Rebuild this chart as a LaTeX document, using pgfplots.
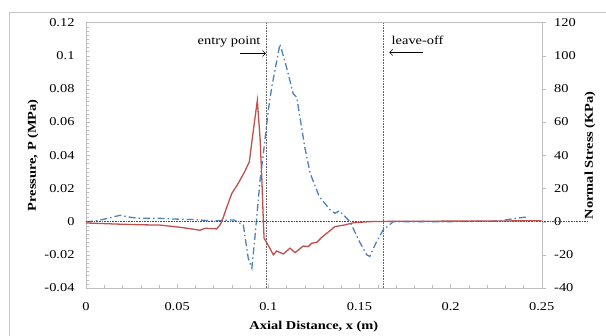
\documentclass[border=0pt]{standalone}
\usepackage{pgfplots}
\pgfplotsset{compat=1.18}
\usepackage{fontspec}
\setmainfont{Liberation Serif}[FakeStretch=1.2]
\usetikzlibrary{arrows.meta}
\definecolor{myred}{HTML}{C0504D}
\definecolor{myblue}{HTML}{4F81BD}
\definecolor{axgray}{RGB}{190,190,190}

\pgfplotstableread{
x p
0 -0.0008
0.01 -0.0012
0.02 -0.0016
0.03 -0.0019
0.0406 -0.0021
0.0516 -0.0034
0.058 -0.0044
0.0625 -0.0052
0.0653 -0.0040
0.0717 -0.0044
0.0735 -0.0020
0.0745 0.0
0.077 0.008
0.080 0.017
0.0835 0.023
0.087 0.030
0.0896 0.036
0.0918 0.055
0.094 0.073
0.0955 0.050
0.0965 0.025
0.0973 0.0
0.0977 -0.010
0.0988 -0.012
0.1028 -0.020
0.1046 -0.0177
0.1083 -0.0195
0.1119 -0.016
0.1147 -0.0187
0.1192 -0.0147
0.122 -0.015
0.1238 -0.013
0.1266 -0.0125
0.1293 -0.0095
0.1366 -0.003
0.142 -0.002
0.1467 -0.0007
0.1558 0.0
0.17 0.0002
0.2 0.0003
0.25 0.0005
}\pressure

\pgfplotstableread{
x s
0 0
0.005 0.3
0.010 1.5
0.0187 3.8
0.025 2.5
0.030 2
0.040 2
0.050 1.5
0.060 1.2
0.070 0.3
0.075 0.8
0.081 1
0.0863 -2
0.089 -22
0.091 -28
0.0927 -9
0.0955 25
0.0973 41
0.100 67
0.1019 81
0.1064 107
0.110 93
0.1137 77
0.1156 75
0.120 45
0.123 29
0.128 15
0.134 7
0.1366 5
0.139 6.5
0.1448 0
0.150 -12
0.154 -20
0.1557 -21
0.159 -13
0.163 -5
0.1686 0
0.2 0
0.225 0.3
0.230 1
0.240 2.6
0.243 2.8
}\stress

\begin{document}
\begin{tikzpicture}[font=\fontsize{12}{14}\selectfont]
\useasboundingbox (0,0) rectangle (606pt,336pt);
\fill[white] (0,0) rectangle (606pt,336pt);
\draw[gray!45, line width=0.8pt] (9pt,0) -- (9pt,324pt) -- (606pt,324pt);
\pgfplotsset{every axis/.append style={scale only axis, width=455.7pt, height=265.5pt,
  at={(86pt,48pt)}, anchor=south west,
  /pgf/number format/assume math mode=true,
  tick label style={font=\fontsize{12}{14}\selectfont},
  label style={font=\fontsize{12}{14}\selectfont\bfseries}}}
% right axis: normal stress
\begin{axis}[
  xmin=0, xmax=0.25, ymin=-40, ymax=120,
  axis x line=none, axis y line*=right,
  ytick={-40,-20,0,20,40,60,80,100,120},
  yticklabels={-40,-20,0,20,40,60,80,100,120},
  axis line style={axgray}, tick style={axgray},
  tick align=outside, major tick length=4pt,
  yticklabel style={xshift=5pt},
  ylabel={Normal Stress (KPa)},
  ylabel style={at={(axis description cs:1.106,0.5)}, anchor=center, rotate=0},
  clip=false,
]
\addplot[myblue, line width=1.3pt, dash pattern=on 7pt off 3pt on 1.5pt off 3pt] table[x=x,y=s]{\stress};
\end{axis}
% left axis: pressure
\begin{axis}[
  xmin=0, xmax=0.25, ymin=-0.04, ymax=0.12,
  xtick={0,0.05,0.1,0.15,0.2,0.25},
  xticklabels={0,0.05,0.1,0.15,0.2,0.25},
  ytick={-0.04,-0.02,0,0.02,0.04,0.06,0.08,0.1,0.12},
  yticklabels={-0.04,-0.02,0,0.02,0.04,0.06,0.08,0.1,0.12},
  minor x tick num=4, minor y tick num=7,
  xtick pos=left, ytick pos=left,
  axis line style={axgray}, tick style={axgray},
  tick align=inside, major tick length=4pt, minor tick length=3pt,
  xticklabel style={yshift=-10.5pt},
  yticklabel style={xshift=-8pt},
  xlabel={Axial Distance, x (m)},
  xlabel style={at={(axis description cs:0.5,0)}, anchor=center, yshift=-38.7pt},
  ylabel={Pressure, P (MPa)},
  ylabel style={at={(axis description cs:-0.1163,0.5)}, anchor=center},
  clip=false,
]
\draw[black!70, densely dotted, line width=0.6pt] (axis cs:0,0) -- (axis cs:0.2749,0);
\draw[black!60, densely dotted, line width=0.6pt] (axis cs:0.0991,-0.04) -- (axis cs:0.0991,0.12);
\draw[black!60, densely dotted, line width=0.6pt] (axis cs:0.163,-0.04) -- (axis cs:0.163,0.12);
\addplot[myred, line width=1.3pt] table[x=x,y=p]{\pressure};
\node at (axis cs:0.0785,0.1085) {entry point};
\node at (axis cs:0.1819,0.1095) {leave-off};
\draw[-{Straight Barb[length=3pt]}, line width=0.5pt] (axis cs:0.0845,0.1013) -- (axis cs:0.0987,0.1013);
\draw[-{Straight Barb[length=3pt]}, line width=0.5pt] (axis cs:0.1847,0.102) -- (axis cs:0.1664,0.102);
\end{axis}
\end{tikzpicture}
\end{document}
